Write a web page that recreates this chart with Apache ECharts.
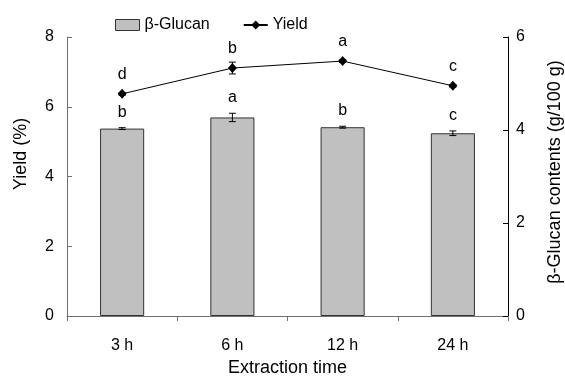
<!DOCTYPE html>
<html>
<head>
<meta charset="utf-8">
<script src="https://cdn.jsdelivr.net/npm/echarts@6/dist/echarts.min.js"></script>
<style>
html,body{margin:0;padding:0;background:#fff;}
#c{width:565px;height:378px;}
</style>
</head>
<body>
<div id="c"></div>
<script>
var categories = ['3 h', '6 h', '12 h', '24 h'];
var glucan = [4.03, 4.27, 4.06, 3.93];
var glucanErr = [0.02, 0.09, 0.02, 0.05];
var glucanLetters = ['b', 'a', 'b', 'c'];
var yieldVals = [6.37, 7.11, 7.31, 6.60];
var yieldErr = [0.04, 0.17, 0.04, 0.04];
var yieldLetters = ['d', 'b', 'a', 'c'];
var leftTicks = [0, 2, 4, 6, 8];
var rightTicks = [0, 2, 4, 6];

var FONT = 'Liberation Sans, Arial, sans-serif';

function errData(vals, errs, letters) {
  return vals.map(function (v, i) { return [i, v, errs[i], letters[i]]; });
}

function makeRender() {
  return function (params, api) {
    var i = api.value(0), v = api.value(1), e = api.value(2);
    var hi = api.coord([i, v + e]);
    var lo = api.coord([i, v - e]);
    var x = hi[0];
    var cap = 3.5;
    var children = [
      {type: 'line', shape: {x1: x, y1: hi[1], x2: x, y2: lo[1]}, style: {stroke: '#000', lineWidth: 1}},
      {type: 'line', shape: {x1: x - cap, y1: hi[1], x2: x + cap, y2: hi[1]}, style: {stroke: '#000', lineWidth: 1}},
      {type: 'line', shape: {x1: x - cap, y1: lo[1], x2: x + cap, y2: lo[1]}, style: {stroke: '#000', lineWidth: 1}}
    ];
    return {type: 'group', children: children};
  };
}

function letterRender(letters, offset, useTop) {
  return function (params, api) {
    var i = api.value(0), v = api.value(1), e = api.value(2);
    var p = api.coord([i, useTop ? v + e : v]);
    return {
      type: 'text',
      style: {
        text: letters[i], x: p[0], y: p[1] - offset,
        textAlign: 'center', textVerticalAlign: 'middle',
        font: '16px ' + FONT, fill: '#000'
      }
    };
  };
}

var chart = echarts.init(document.getElementById('c'), null, {renderer: 'canvas'});
chart.setOption({
  backgroundColor: '#fff',
  animation: false,
  textStyle: {fontFamily: FONT},
  legend: {
    left: 110, top: 12,
    itemWidth: 24, itemHeight: 11, itemGap: 33,
    textStyle: {fontSize: 16, color: '#000', fontFamily: FONT},
    data: [
      {name: 'β-Glucan', icon: 'rect', itemStyle: {color: '#c0c0c0', borderColor: '#333', borderWidth: 1}},
      {name: 'Yield'}
    ]
  },
  grid: {left: 67, right: 57, top: 37, bottom: 62, containLabel: false, outerBoundsMode: 'none'},
  xAxis: {
    type: 'category', data: categories, boundaryGap: true,
    axisLine: {lineStyle: {color: '#707070', width: 1}},
    axisTick: {show: true, length: 5, interval: 0, lineStyle: {color: '#707070'}},
    axisLabel: {fontSize: 16, color: '#000', margin: 22, fontFamily: FONT},
    name: 'Extraction time', nameLocation: 'middle', nameGap: 43,
    nameTextStyle: {fontSize: 18, color: '#000', fontFamily: FONT}
  },
  yAxis: [
    {
      type: 'value', min: 0, max: 8, interval: 2, position: 'left',
      axisLine: {show: true, lineStyle: {color: '#707070'}},
      axisTick: {show: true, inside: true, length: 5, lineStyle: {color: '#707070'}},
      axisLabel: {fontSize: 16, color: '#000', margin: 13, fontFamily: FONT,
        formatter: function (v) { return leftTicks.indexOf(v) >= 0 ? String(v) : ''; }},
      splitLine: {show: false}
    },
    {
      type: 'value', min: 0, max: 6, interval: 2, position: 'right',
      axisLine: {show: true, lineStyle: {color: '#000'}},
      axisTick: {show: true, inside: true, length: 5, lineStyle: {color: '#000'}},
      axisLabel: {fontSize: 16, color: '#000', margin: 8, fontFamily: FONT,
        formatter: function (v) { return rightTicks.indexOf(v) >= 0 ? String(v) : ''; }},
      splitLine: {show: false}
    }
  ],
  graphic: [
    {type: 'text', x: 21, y: 154, rotation: Math.PI / 2, originX: 0, originY: 0,
      style: {text: 'Yield (%)', font: '18px ' + FONT, fill: '#000', textAlign: 'center', textVerticalAlign: 'middle'}},
    {type: 'text', x: 555, y: 172, rotation: Math.PI / 2, originX: 0, originY: 0,
      style: {text: 'β-Glucan contents (g/100 g)', font: '18px ' + FONT, fill: '#000', textAlign: 'center', textVerticalAlign: 'middle'}}
  ],
  series: [
    {
      name: 'β-Glucan', type: 'bar', yAxisIndex: 1, data: glucan, barWidth: '40%',
      itemStyle: {color: '#c0c0c0', borderColor: '#333', borderWidth: 1}, z: 2
    },
    {
      name: 'gErr', type: 'custom', yAxisIndex: 1, data: errData(glucan, glucanErr, glucanLetters),
      renderItem: makeRender(), z: 3, silent: true
    },
    {
      name: 'gLetters', type: 'custom', yAxisIndex: 1, data: errData(glucan, glucanErr, glucanLetters),
      renderItem: letterRender(glucanLetters, 15.5, true), z: 3, silent: true
    },
    {
      name: 'Yield', type: 'line', yAxisIndex: 0, data: yieldVals,
      symbol: 'diamond', symbolSize: [9, 10], showSymbol: true,
      lineStyle: {color: '#000', width: 1}, itemStyle: {color: '#000'}, z: 5
    },
    {
      name: 'yErr', type: 'custom', yAxisIndex: 0, data: errData(yieldVals, yieldErr, yieldLetters),
      renderItem: makeRender(), z: 4, silent: true
    },
    {
      name: 'yLetters', type: 'custom', yAxisIndex: 0, data: errData(yieldVals, yieldErr, yieldLetters),
      renderItem: letterRender(yieldLetters, 19, false), z: 4, silent: true
    }
  ]
});
</script>
</body>
</html>
